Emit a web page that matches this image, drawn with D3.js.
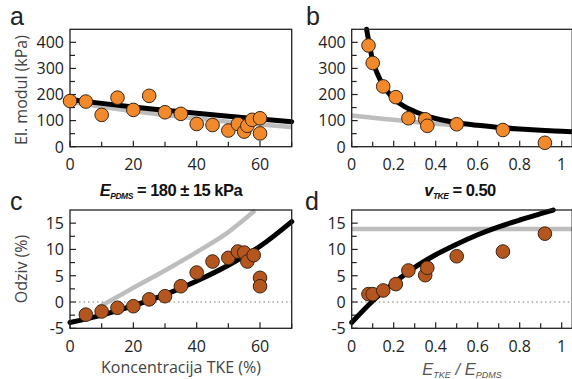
<!DOCTYPE html>
<html><head><meta charset="utf-8">
<script src="https://cdn.jsdelivr.net/npm/d3@7"></script>
<style>body{margin:0;background:#fff}svg{display:block}</style>
</head><body><svg id="c" width="572" height="379"></svg>
<script>
// ---- data ----
const concA = [0,5,10,15,20,25,30,35,40,45,50,53,55,56,57.5,60,60];
const modA  = [175,173,122,188,141,195,132,126,87,83,62,87,58,80,103,109,51];
const fitAx = [0,10,20,30,40,50,60,70];
const fitAy = [181,166,152,140,128,117,106,96];
const grayAx = [0,10,20,30,40,50,60,70];
const grayAy = [172,153,136,121,108,96,85,75];

const ratioB = [0.08,0.10,0.15,0.21,0.27,0.35,0.36,0.50,0.72,0.92];
const modB   = [388,321,231,190,109,105,80,86,64,15];
const fitBx = [0.071,0.08,0.1,0.125,0.15,0.2,0.25,0.3,0.4,0.5,0.6,0.7,0.8,0.9,1.0,1.05];
const fitBy = [450,410,330,275,235,185,155,135,108,92,82,74,68,63,59,57];
const grayBx = [0,0.1,0.2,0.3,0.4,0.48];
const grayBy = [120,111,103,95,88,83];

const concC = [5,10,15,20,25,30,35,40,45,50,53,55,56,58,60,60];
const respC = [-2.4,-1.8,-1.1,-0.8,0.5,1.1,3.0,5.6,7.7,8.4,9.6,9.4,7.7,8.9,4.6,3.0];
const fitCx = [0,10,20,30,40,50,60,70];
const fitCy = [-3.9,-2.5,-0.7,1.4,4.0,7.0,10.6,15.3];
const grayCx = [9,15,20,30,40,50,58.4];
const grayCy = [-1.0,1.0,2.7,6.0,9.5,13.3,17.4];

const ratioD = [0.08,0.10,0.15,0.21,0.27,0.35,0.36,0.50,0.72,0.92];
const respD  = [1.5,1.5,2.2,3.4,6.0,5.1,6.5,8.7,9.6,13.0];
const fitDx = [0,0.1,0.2,0.3,0.4,0.5,0.6,0.7,0.8,0.9,0.96];
const fitDy = [-3.9,0.2,3.6,6.6,9.0,11.0,12.8,14.3,15.6,16.8,17.5];
const grayDx = [0,1.05];
const grayDy = [13.9,13.9];

const concTicks = [0,20,40,60], concMinor = [10,30,50,70];
const ratioTicks = [0,0.2,0.4,0.6,0.8,1], ratioMinor = [0.1,0.3,0.5,0.7,0.9];
const modTicks = [0,100,200,300,400], modMinor = [50,150,250,350];
const respTicks = [-5,0,5,10,15], respMinor = [-2.5,2.5,7.5,12.5];

// ---- drawing ----
const svg = d3.select("#c");
const FONT = "'Open Sans', 'Noto Sans', sans-serif";
const ORANGE = "#f28a2c", BROWN = "#b5561f";

function panel(o){
  const x = d3.scaleLinear().domain(o.xd).range(o.xr);
  const y = d3.scaleLinear().domain(o.yd).range(o.yr);
  const g = svg.append("g");
  const tk = g.append("g").attr("stroke","#222").attr("stroke-width",1.2);
  o.xt.forEach(v=>tk.append("line").attr("x1",x(v)).attr("x2",x(v)).attr("y1",o.yr[0]).attr("y2",o.yr[0]-6));
  o.xm.forEach(v=>tk.append("line").attr("x1",x(v)).attr("x2",x(v)).attr("y1",o.yr[0]).attr("y2",o.yr[0]-5));
  o.yt.forEach(v=>tk.append("line").attr("y1",y(v)).attr("y2",y(v)).attr("x1",o.xr[0]).attr("x2",o.xr[0]+6));
  o.ym.forEach(v=>tk.append("line").attr("y1",y(v)).attr("y2",y(v)).attr("x1",o.xr[0]).attr("x2",o.xr[0]+5));
  o.xt.forEach(v=>g.append("text").attr("x",x(v)).attr("y",o.yr[0]+23.5).attr("text-anchor","middle")
     .attr("font-family",FONT).attr("font-size",16).attr("fill","#222").text(String(v)));
  o.yt.forEach(v=>g.append("text").attr("x",o.xr[0]-6).attr("y",y(v)+5.8).attr("text-anchor","end")
     .attr("font-family",FONT).attr("font-size",16).attr("fill","#222").text(v));
  if(o.zero){
    g.append("line").attr("x1",o.xr[0]).attr("x2",o.xr[1]).attr("y1",y(0)).attr("y2",y(0))
     .attr("stroke","#777").attr("stroke-width",1.2).attr("stroke-dasharray","1.5,3");
  }
  const line = d3.line().x(d=>x(d[0])).y(d=>y(d[1])).curve(d3.curveMonotoneX);
  g.append("path").attr("d",line(d3.zip(o.gx,o.gy))).attr("fill","none")
   .attr("stroke","#bdbdbd").attr("stroke-width",4.5).attr("stroke-linecap","butt");
  g.append("path").attr("d",line(d3.zip(o.fx,o.fy))).attr("fill","none")
   .attr("stroke","#000").attr("stroke-width",5).attr("stroke-linecap","round");
  g.append("rect").attr("x",o.xr[0]).attr("y",o.yr[1]).attr("width",o.xr[1]-o.xr[0]).attr("height",o.yr[0]-o.yr[1])
   .attr("fill","none").attr("stroke","#222").attr("stroke-width",1.3);
  g.append("g").selectAll("circle").data(d3.zip(o.px,o.py)).join("circle")
   .attr("cx",d=>x(d[0])).attr("cy",d=>y(d[1])).attr("r",6.8)
   .attr("fill",o.col).attr("stroke","#3a2414").attr("stroke-width",1);
  return {x,y};
}

panel({xd:[0,70],xr:[70,291.7],yd:[0,450],yr:[146.7,29.3],xt:concTicks,xm:concMinor,yt:modTicks,ym:modMinor,
  gx:grayAx,gy:grayAy,fx:fitAx,fy:fitAy,px:concA,py:modA,col:ORANGE});
panel({xd:[0,1.05],xr:[351.7,572.2],yd:[0,450],yr:[146.7,29.3],xt:ratioTicks,xm:ratioMinor,yt:modTicks,ym:modMinor,
  gx:grayBx,gy:grayBy,fx:fitBx,fy:fitBy,px:ratioB,py:modB,col:ORANGE});
panel({xd:[0,70],xr:[70,291.7],yd:[-5,17.5],yr:[328.3,210],xt:concTicks,xm:concMinor,yt:respTicks,ym:respMinor,zero:true,
  gx:grayCx,gy:grayCy,fx:fitCx,fy:fitCy,px:concC,py:respC,col:BROWN});
panel({xd:[0,1.05],xr:[351.7,572.2],yd:[-5,17.5],yr:[328.3,210],xt:ratioTicks,xm:ratioMinor,yt:respTicks,ym:respMinor,zero:true,
  gx:grayDx,gy:grayDy,fx:fitDx,fy:fitDy,px:ratioD,py:respD,col:BROWN});

[["a",10,25],["b",306,25],["c",10,210],["d",305,210]].forEach(([t,x,y])=>
  svg.append("text").attr("x",x).attr("y",y).attr("font-family","'Liberation Sans',Arial,sans-serif")
   .attr("font-size",25).attr("fill","#222").text(t));

svg.append("text").attr("transform","translate(27,90) rotate(-90)").attr("text-anchor","middle")
  .attr("font-family",FONT).attr("font-size",16).attr("fill","#444").text("El. modul (kPa)");
svg.append("text").attr("transform","translate(27,269) rotate(-90)").attr("text-anchor","middle")
  .attr("font-family",FONT).attr("font-size",16).attr("fill","#444").text("Odziv (%)");
svg.append("text").attr("x",181).attr("y",373).attr("text-anchor","middle")
  .attr("font-family",FONT).attr("font-size",16).attr("fill","#444").text("Koncentracija TKE (%)");

const et = svg.append("text").attr("x",462).attr("y",375).attr("text-anchor","middle")
  .attr("font-family","'Liberation Sans',Arial,sans-serif").attr("font-style","italic").attr("fill","#555").attr("font-size",16.5);
et.append("tspan").text("E");
et.append("tspan").attr("font-size",9).attr("dy",3).text("TKE");
et.append("tspan").attr("dy",-3).text(" / E");
et.append("tspan").attr("font-size",9).attr("dy",3).text("PDMS");

const s1 = svg.append("text").attr("x",171).attr("y",196).attr("text-anchor","middle")
  .attr("font-family","'Liberation Sans',Arial,sans-serif").attr("font-weight","bold").attr("fill","#111").attr("font-size",16.5).attr("letter-spacing",-0.5);
s1.append("tspan").attr("font-style","italic").text("E");
s1.append("tspan").attr("font-style","italic").attr("font-size",8.5).attr("dy",3).text("PDMS");
s1.append("tspan").attr("dy",-3).text(" = 180 ± 15 kPa");
const s2 = svg.append("text").attr("x",460).attr("y",196).attr("text-anchor","middle")
  .attr("font-family","'Liberation Sans',Arial,sans-serif").attr("font-weight","bold").attr("fill","#111").attr("font-size",16.5).attr("letter-spacing",-0.5);
s2.append("tspan").attr("font-style","italic").text("v");
s2.append("tspan").attr("font-style","italic").attr("font-size",8.5).attr("dy",3).text("TKE");
s2.append("tspan").attr("dy",-3).text(" = 0.50");
</script></body></html>
